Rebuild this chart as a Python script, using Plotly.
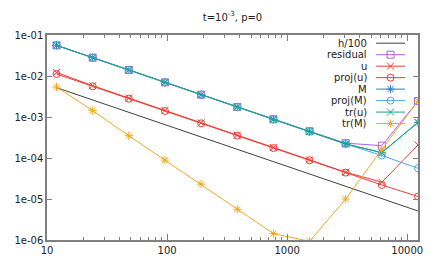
import plotly.graph_objects as go
import math

# ---- data ----
N = [12, 24, 48, 96, 192, 384, 768, 1536, 3072, 6144, 12288]
h100 = [5.2e-3, 2.6e-3, 1.3e-3, 6.5e-4, 3.25e-4, 1.63e-4, 8.1e-5, 4.1e-5, 2.03e-5, 1.02e-5, 5.1e-6]
residual = [5.6e-2, 2.8e-2, 1.4e-2, 7.0e-3, 3.5e-3, 1.75e-3, 8.8e-4, 4.5e-4, 2.3e-4, 2.0e-4, 2.45e-3]
u = [1.22e-2, 5.8e-3, 2.9e-3, 1.45e-3, 7.2e-4, 3.6e-4, 1.8e-4, 9.0e-5, 4.5e-5, 2.57e-5, 2.07e-4]
proj_u = [1.12e-2, 5.6e-3, 2.8e-3, 1.4e-3, 7.0e-4, 3.5e-4, 1.75e-4, 8.8e-5, 4.4e-5, 2.2e-5, 1.15e-5]
M = [5.6e-2, 2.8e-2, 1.4e-2, 7.0e-3, 3.5e-3, 1.75e-3, 8.8e-4, 4.4e-4, 2.2e-4, 1.35e-4, 7.4e-4]
proj_M = [5.6e-2, 2.8e-2, 1.4e-2, 7.0e-3, 3.5e-3, 1.75e-3, 8.8e-4, 4.4e-4, 2.2e-4, 1.15e-4, 5.6e-5]
tr_u = [5.6e-2, 2.8e-2, 1.4e-2, 7.0e-3, 3.5e-3, 1.75e-3, 8.8e-4, 4.4e-4, 2.2e-4, 1.35e-4, 7.4e-4]
tr_M = [5.4e-3, 1.43e-3, 3.5e-4, 8.9e-5, 2.3e-5, 5.6e-6, 1.43e-6, 9.3e-7, 1.0e-5, 1.62e-4, 2.45e-3]

x_ticks = [10, 100, 1000, 10000]
x_ticktext = ["10", "100", "1000", "10000"]
y_ticks = [1e-1, 1e-2, 1e-3, 1e-4, 1e-5, 1e-6]
y_ticktext = ["1e-01", "1e-02", "1e-03", "1e-04", "1e-05", "1e-06"]

names = ["h/100", "residual", "u", "proj(u)", "M", "proj(M)", "tr(u)", "tr(M)"]
series = [h100, residual, u, proj_u, M, proj_M, tr_u, tr_M]
colors = ["#404040", "#b060e8", "#f03c32", "#f03c32", "#2a7fc0", "#4ea8e0", "#17a882", "#f0a820"]
symbols = [None, "square-open", "x-thin-open", "circle-open", "asterisk-open",
           "circle-open", "x-thin-open", "asterisk-open"]

FONT = "DejaVu Sans"
MSIZE = 7
fig = go.Figure()

for name, ys, col, sym in zip(names, series, colors, symbols):
    if sym is None:
        fig.add_trace(go.Scatter(x=N, y=ys, mode="lines", name=name,
                                 line=dict(color=col, width=1), showlegend=False))
    else:
        fig.add_trace(go.Scatter(x=N, y=ys, mode="lines+markers", name=name,
                                 line=dict(color=col, width=1),
                                 marker=dict(symbol=sym, size=MSIZE, color=col,
                                             line=dict(color=col, width=1)),
                                 showlegend=False, cliponaxis=True))

# ---- gnuplot-style key (text right, sample on the right) ----
key_top = 0.96
key_step = 0.056
kx0, kx1, kxm = 0.887, 0.965, 0.926
for i, (name, col, sym) in enumerate(zip(names, colors, symbols)):
    ky = key_top - i * key_step
    fig.add_trace(go.Scatter(x=[kx0, kx1], y=[ky, ky], mode="lines",
                             line=dict(color=col, width=1),
                             xaxis="x2", yaxis="y2", showlegend=False, hoverinfo="skip"))
    if sym is not None:
        fig.add_trace(go.Scatter(x=[kxm], y=[ky], mode="markers",
                                 marker=dict(symbol=sym, size=MSIZE, color=col,
                                             line=dict(color=col, width=1)),
                                 xaxis="x2", yaxis="y2", showlegend=False, hoverinfo="skip"))
    fig.add_annotation(x=0.868, y=ky, xref="paper", yref="paper", text=name,
                       showarrow=False, xanchor="right", yanchor="middle",
                       font=dict(family=FONT, size=10, color="#222222"))

axis_common = dict(showgrid=False, zeroline=False, linecolor="#808080", linewidth=1.5,
                   mirror="ticks", ticks="inside", tickcolor="#808080", automargin=False,
                   tickfont=dict(family=FONT, size=10, color="#222222"))

fig.update_layout(
    width=436, height=262,
    margin=dict(l=47, r=18, t=35, b=22),
    paper_bgcolor="white", plot_bgcolor="white",
    title=dict(text="t=10<sup>-3</sup>, p=0", x=(47 + 418) / 2 / 436, xanchor="center",
               y=1 - 17 / 262, yanchor="middle", yref="container", automargin=False,
               font=dict(family=FONT, size=10, color="#222222")),
    xaxis=dict(type="log", range=[1, math.log10(12288)], tickvals=x_ticks,
               ticktext=x_ticktext, ticklen=6,
               minor=dict(ticks="inside", ticklen=3, tickcolor="#808080",
                          tickvals=[d * 10 ** k for k in range(1, 5) for d in range(2, 10)
                                    if d * 10 ** k <= 12288]),
               **axis_common),
    yaxis=dict(type="log", range=[-6, -1], tickvals=y_ticks, ticktext=y_ticktext,
               ticklen=5, **axis_common),
    xaxis2=dict(overlaying="x", range=[0, 1], visible=False, anchor="y2", automargin=False),
    yaxis2=dict(overlaying="y", range=[0, 1], visible=False, anchor="x2", automargin=False),
    showlegend=False,
)

fig.write_html("out.html", config={"displayModeBar": False},
               post_script="document.body.style.margin='0';")
